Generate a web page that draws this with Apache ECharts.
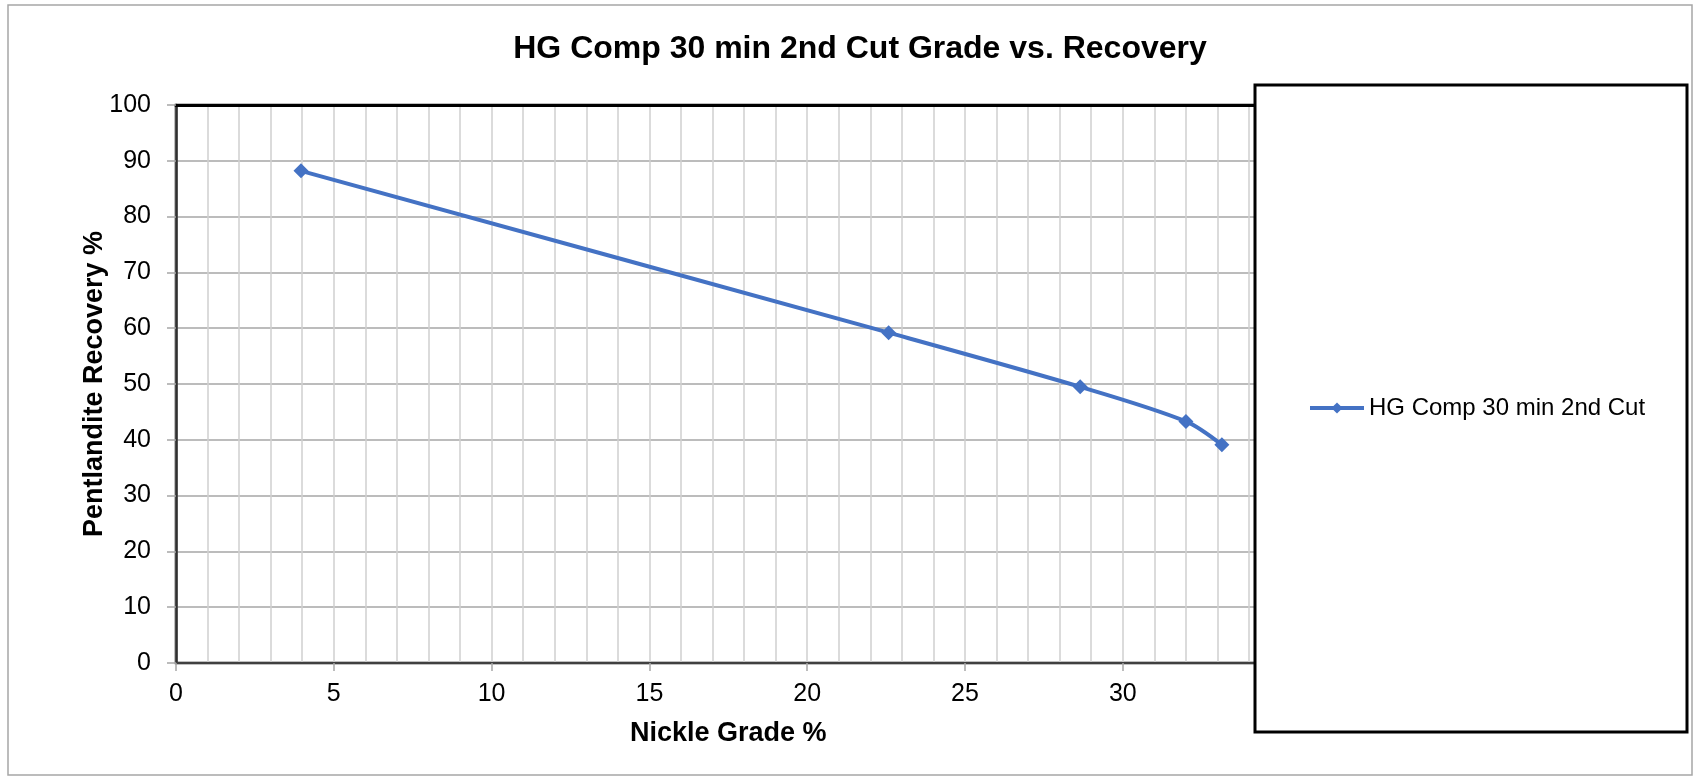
<!DOCTYPE html>
<html>
<head>
<meta charset="utf-8">
<title>HG Comp 30 min 2nd Cut Grade vs. Recovery</title>
<script src="https://cdn.jsdelivr.net/npm/echarts@6/dist/echarts.min.js"></script>
<style>
  html, body { margin: 0; padding: 0; background: #fff; }
  #chart { width: 1698px; height: 778px; }
</style>
</head>
<body>
<div id="chart"></div>
<script>
// Grade (x) and recovery (y) for each cut point
const seriesName = 'HG Comp 30 min 2nd Cut';
const nickleGrade = [3.96, 22.58, 28.65, 32.0, 33.14];
const pentlanditeRecovery = [88.2, 59.2, 49.5, 43.3, 39.1];

const chartTitle = 'HG Comp 30 min 2nd Cut Grade vs. Recovery';
const xAxisTitle = 'Nickle Grade %';
const yAxisTitle = 'Pentlandite Recovery %';

const FONT = '"Liberation Sans", Arial, sans-serif';
const BLUE = '#4472C4';

const points = nickleGrade.map((g, i) => [g, pentlanditeRecovery[i]]);

const chart = echarts.init(document.getElementById('chart'), null, { renderer: 'canvas' });

chart.setOption({
  backgroundColor: '#fff',
  animation: false,
  title: {
    text: chartTitle,
    left: 855,
    textAlign: 'center',
    top: 28,
    textStyle: { fontFamily: FONT, fontSize: 32, fontWeight: 'bold', color: '#000' }
  },
  grid: {
    left: 176,
    top: 105,
    width: 1104.6,
    height: 558,
    show: true,
    borderColor: '#000',
    borderWidth: 2.5,
    backgroundColor: '#fff'
  },
  xAxis: [
    {
      type: 'value',
      min: 0,
      max: 35,
      interval: 5,
      name: xAxisTitle,
      nameLocation: 'middle',
      nameGap: 57,
      nameMoveOverlap: false,
      nameTextStyle: { fontFamily: FONT, fontSize: 27, fontWeight: 'bold', color: '#000' },
      axisLine: { show: true, onZero: false, lineStyle: { color: '#404040', width: 2 } },
      axisTick: { show: true, length: 8, lineStyle: { color: '#a6a6a6', width: 1.5 } },
      axisLabel: { fontFamily: FONT, fontSize: 25, color: '#000', margin: 19 },
      splitLine: { show: true, lineStyle: { color: '#cfcfcf', width: 1.5 } },
      minorTick: { show: false, splitNumber: 5 },
      minorSplitLine: { show: true, lineStyle: { color: '#cfcfcf', width: 1.5 } }
    },
    {
      // plot-area top edge
      type: 'value',
      position: 'top',
      min: 0,
      max: 35,
      interval: 5,
      axisLine: { show: true, onZero: false, lineStyle: { color: '#000', width: 3 } },
      axisTick: { show: false },
      axisLabel: { show: false },
      splitLine: { show: false }
    }
  ],
  yAxis: {
    type: 'value',
    min: 0,
    max: 100,
    interval: 10,
    name: yAxisTitle,
    nameLocation: 'middle',
    nameGap: 68,
    nameMoveOverlap: false,
    nameTextStyle: { fontFamily: FONT, fontSize: 27, fontWeight: 'bold', color: '#000' },
    axisLine: { show: true, lineStyle: { color: '#303030', width: 2.5 } },
    axisTick: { show: true, length: 9, lineStyle: { color: '#a6a6a6', width: 1.5 } },
    axisLabel: { fontFamily: FONT, fontSize: 25, color: '#000', margin: 25 },
    splitLine: { show: true, lineStyle: { color: '#a6a6a6', width: 1.5 } }
  },
  legend: {
    z: 200,
    left: 1308,
    top: 396,
    padding: 0,
    itemWidth: 54,
    itemHeight: 14,
    lineStyle: { width: 4 },
    textStyle: { fontFamily: FONT, fontSize: 24, color: '#000' },
    data: [seriesName]
  },
  graphic: [
    {
      type: 'rect',
      z: 100,
      shape: { x: 1255, y: 85, width: 432, height: 647 },
      style: { fill: '#fff', stroke: '#000', lineWidth: 3 }
    },
    {
      type: 'rect',
      z: 100,
      silent: true,
      shape: { x: 8, y: 5, width: 1684, height: 770 },
      style: { fill: 'none', stroke: '#a6a6a6', lineWidth: 1.5 }
    }
  ],
  series: [
    {
      name: seriesName,
      type: 'line',
      xAxisIndex: 0,
      data: points,
      smooth: 0.3,
      symbol: 'diamond',
      symbolSize: 15,
      itemStyle: { color: BLUE },
      lineStyle: { color: BLUE, width: 4 },
      z: 10
    }
  ]
});
</script>
</body>
</html>
